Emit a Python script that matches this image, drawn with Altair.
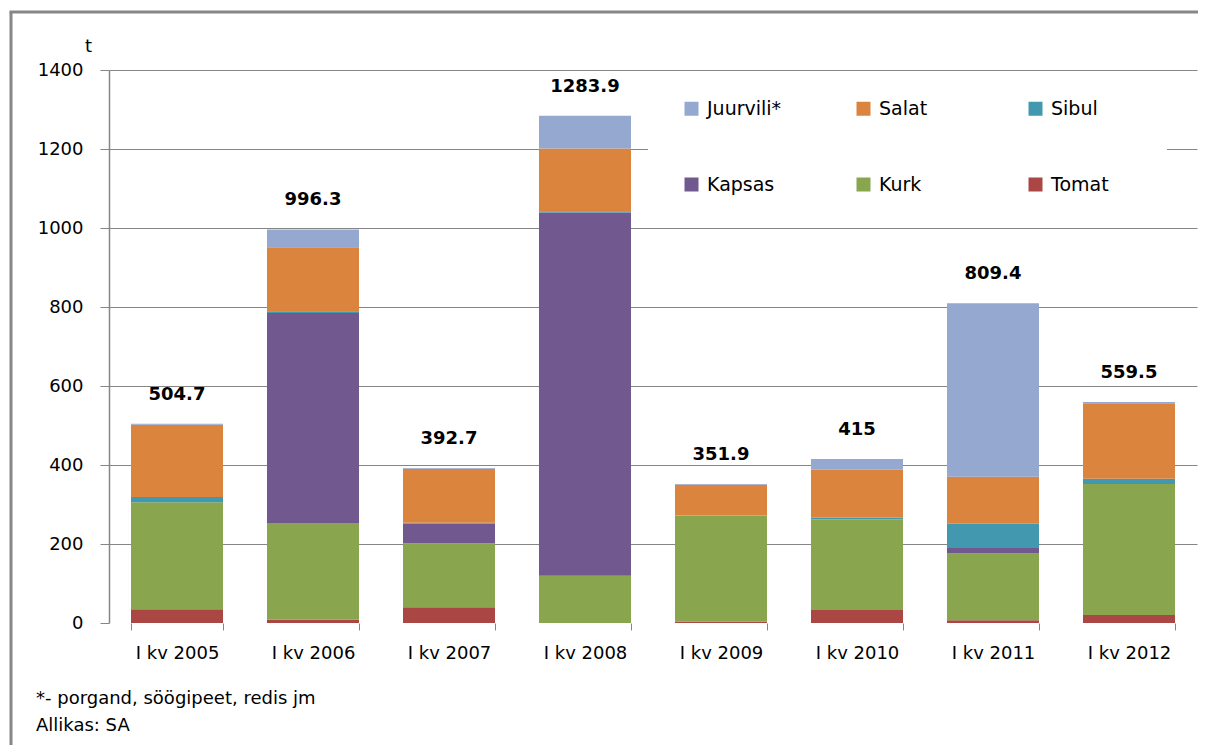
import altair as alt
import pandas as pd

quarters = ["I kv 2005", "I kv 2006", "I kv 2007", "I kv 2008",
            "I kv 2009", "I kv 2010", "I kv 2011", "I kv 2012"]
tomat = [35, 8, 40, 0, 3, 33, 7, 20]
kurk = [271, 245, 162, 119.5, 268.5, 229, 169, 332]
kapsas = [0, 532, 50, 920, 0, 0, 14, 0]
sibul = [13, 4, 1.5, 3, 0.5, 5, 61, 13]
salat = [183, 162, 137, 159, 78, 121, 119, 191.5]
juurvili = [2.7, 45.3, 2.2, 82.4, 1.9, 27, 439.4, 3]
totals = [504.7, 996.3, 392.7, 1283.9, 351.9, 415, 809.4, 559.5]

series_names = ["Juurvili*", "Salat", "Sibul", "Kapsas", "Kurk", "Tomat"]
series_colors = ["#95A9D0", "#DB843D", "#4298AF", "#71588F", "#89A54E", "#AA4643"]
stack_from_bottom = ["Tomat", "Kurk", "Kapsas", "Sibul", "Salat", "Juurvili*"]
series_values = {"Tomat": tomat, "Kurk": kurk, "Kapsas": kapsas,
                 "Sibul": sibul, "Salat": salat, "Juurvili*": juurvili}
notes = ["*- porgand, söögipeet, redis jm", "Allikas: SA"]

rows = []
for s in stack_from_bottom:
    for q, v in zip(quarters, series_values[s]):
        rows.append({"kv": q, "liik": s, "t": v, "ord": stack_from_bottom.index(s)})
df = pd.DataFrame(rows)
tot_df = pd.DataFrame({"kv": quarters, "total": totals})

FONT = "DejaVu Sans"
GRAY = "#868686"
W, H = 1088, 553

xscale = alt.Scale(domain=quarters, paddingInner=0.3235, paddingOuter=0.1618)
yscale = alt.Scale(domain=[0, 1400], nice=False)

bars = alt.Chart(df).mark_bar().encode(
    x=alt.X("kv:N", scale=xscale, sort=quarters, title=None,
            axis=alt.Axis(labelAngle=0, domain=False, ticks=True, tickSize=7,
                          tickBand="extent", tickColor=GRAY, labelFont=FONT,
                          labelFontSize=18, labelColor="black", labelPadding=14,
                          grid=False)),
    y=alt.Y("t:Q", stack="zero", scale=yscale,
            axis=alt.Axis(values=[0, 200, 400, 600, 800, 1000, 1200, 1400],
                          format="d",
                          grid=True, gridColor=GRAY, gridWidth=1,
                          gridOpacity={"condition": {"test": "datum.value === 0", "value": 0}, "value": 1},
                          domain=True, domainColor=GRAY, domainWidth=1.5,
                          ticks=True, tickSize=9, tickColor=GRAY,
                          labelFont=FONT, labelFontSize=18, labelColor="black",
                          labelPadding=17,
                          title="t", titleAngle=0, titleX=-21, titleY=-24,
                          titleAlign="center", titleBaseline="middle",
                          titleFont=FONT, titleFontSize=18, titleFontWeight="normal",
                          titleColor="black")),
    color=alt.Color("liik:N", scale=alt.Scale(domain=series_names, range=series_colors),
                    legend=alt.Legend(title=None, orient="none", legendX=573, legendY=29,
                                      columns=3, gridAlign="all", columnPadding=72,
                                      rowPadding=56, symbolType="square", symbolSize=196,
                                      symbolStrokeWidth=0, labelFont=FONT, labelFontSize=19,
                                      labelColor="black", labelOffset=6, padding=0,
                                      direction="horizontal")),
    order=alt.Order("ord:Q", sort="ascending"),
)

labels = alt.Chart(tot_df).mark_text(font=FONT, fontSize=18, fontWeight="bold",
                                     color="black", baseline="middle", dy=-29).encode(
    x=alt.X("kv:N", scale=xscale, sort=quarters),
    y=alt.Y("total:Q", scale=yscale),
    text=alt.Text("total:Q", format=".1~f"),
)

one = pd.DataFrame({"a": [0]})
# white legend box that hides the gridline behind the legend
legend_box = alt.Chart(one).mark_rect(fill="white", strokeWidth=0).encode(
    x=alt.value(539), x2=alt.value(1058), y=alt.value(14), y2=alt.value(140))
frame_left = alt.Chart(one).mark_rule(color="#878787", strokeWidth=3).encode(
    x=alt.value(-98), y=alt.value(-58), y2=alt.value(900))
frame_top = alt.Chart(one).mark_rule(color="#878787", strokeWidth=3).encode(
    x=alt.value(-99.5), x2=alt.value(1300), y=alt.value(-58))

note1 = alt.Chart(pd.DataFrame({"n": [notes[0]]})).mark_text(
    font=FONT, fontSize=18, color="black", align="left", baseline="middle").encode(
    x=alt.value(-73), y=alt.value(H + 76), text="n:N")
note2 = alt.Chart(pd.DataFrame({"n": [notes[1]]})).mark_text(
    font=FONT, fontSize=18, color="black", align="left", baseline="middle").encode(
    x=alt.value(-73), y=alt.value(H + 103), text="n:N")

chart = alt.layer(frame_left, frame_top, legend_box, bars, labels, note1, note2).properties(
    width=W, height=H,
    autosize=alt.AutoSizeParams(type="none"),
    padding={"left": 101, "top": 62, "right": 1, "bottom": 122},
    background="white",
).configure_view(strokeWidth=0)

chart.save("out.html", embed_options={"renderer": "svg", "actions": False})
